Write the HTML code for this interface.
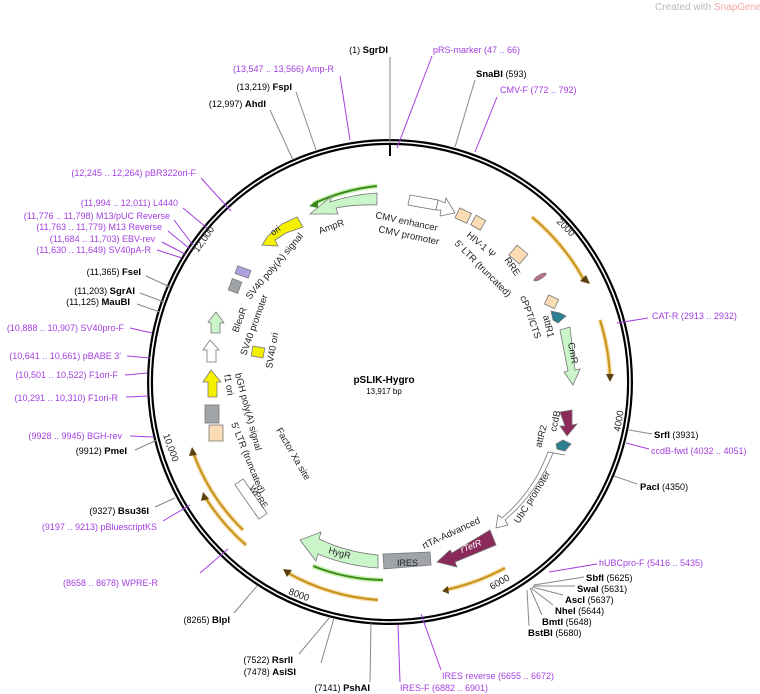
<!DOCTYPE html>
<html><head><meta charset="utf-8"><style>
html,body{margin:0;padding:0;background:#fff;}
svg{display:block;font-family:"Liberation Sans","DejaVu Sans",sans-serif;}
.p{fill:#a33ee0;font-size:9px}
.k{fill:#000;font-size:9px}
.b{font-weight:bold;font-size:9.5px}
.lp{stroke:#a33ee0;stroke-width:1;fill:none}
.lk{stroke:#888;stroke-width:1;fill:none}
.t{font-size:9.5px;fill:#222}
.o{stroke:#c8961e;stroke-width:2.2;fill:none}
.og{stroke:#f7d08a;stroke-width:5;fill:none;opacity:.6}
</style></head><body>
<svg width="760" height="694" viewBox="0 0 760 694">
<text x="655" y="10" font-size="10" fill="#bbb">Created with <tspan fill="#f4a6a6">SnapGene</tspan>®</text>
<!-- ring -->
<circle cx="390" cy="382" r="240" fill="none" stroke="#000" stroke-width="6"/>
<circle cx="390" cy="382" r="240" fill="none" stroke="#fff" stroke-width="1.6"/>
<line x1="390" y1="144" x2="390" y2="156" stroke="#000" stroke-width="2"/>
<!-- tick labels -->
<text class="t" font-size="9" transform="translate(556,222) rotate(45)">2000</text>
<text class="t" font-size="9" transform="translate(620,432) rotate(-80)">4000</text>
<text class="t" font-size="9" transform="translate(492,590) rotate(-30)">6000</text>
<text class="t" font-size="9" transform="translate(288,594) rotate(20)">8000</text>
<text class="t" font-size="9" transform="translate(163,435) rotate(70)">10,000</text>
<text class="t" font-size="9" transform="translate(198,253) rotate(-55)">12,000</text>
<!-- leader lines -->
<g class="lk">
<line x1="390" y1="57" x2="390" y2="142"/>
<line x1="475" y1="80" x2="455" y2="147"/>
<line x1="296" y1="92" x2="316" y2="150"/>
<line x1="270" y1="110" x2="293" y2="160"/>
<line x1="146" y1="276" x2="170" y2="287"/>
<line x1="140" y1="293" x2="164" y2="302"/>
<line x1="137" y1="304" x2="160" y2="312"/>
<line x1="135" y1="450" x2="157" y2="440"/>
<line x1="155" y1="507" x2="175" y2="498"/>
<line x1="234" y1="613" x2="257" y2="586"/>
<line x1="299" y1="654" x2="330" y2="617"/>
<line x1="321" y1="663" x2="334" y2="618"/>
<line x1="370" y1="682" x2="371" y2="623"/>
<line x1="529" y1="626" x2="527" y2="590"/>
<line x1="542" y1="615" x2="530" y2="588"/>
<line x1="553" y1="605" x2="531" y2="588"/>
<line x1="563" y1="595" x2="532" y2="587"/>
<line x1="575" y1="586" x2="533" y2="586"/>
<line x1="584" y1="577" x2="534" y2="585"/>
<line x1="637" y1="484" x2="614" y2="476"/>
<line x1="652" y1="434" x2="629" y2="430"/>
</g>
<g class="lp">
<line x1="432" y1="56" x2="397" y2="148"/>
<line x1="497" y1="97" x2="475" y2="152"/>
<line x1="340" y1="76" x2="350" y2="140"/>
<line x1="201" y1="178" x2="231" y2="211"/>
<line x1="183" y1="208" x2="207" y2="228"/>
<line x1="174" y1="220" x2="193" y2="245"/>
<line x1="168" y1="231" x2="190" y2="249"/>
<line x1="162" y1="242" x2="185" y2="254"/>
<line x1="157" y1="250" x2="182" y2="258"/>
<line x1="130" y1="328" x2="152" y2="333"/>
<line x1="127" y1="356" x2="150" y2="358"/>
<line x1="125" y1="375" x2="147" y2="373"/>
<line x1="126" y1="397" x2="148" y2="396"/>
<line x1="130" y1="436" x2="154" y2="437"/>
<line x1="163" y1="521" x2="190" y2="505"/>
<line x1="200" y1="573" x2="228" y2="549"/>
<line x1="400" y1="682" x2="398" y2="625"/>
<line x1="441" y1="670" x2="421" y2="614"/>
<line x1="597" y1="564" x2="549" y2="572"/>
<line x1="649" y1="449" x2="626" y2="443"/>
<line x1="648" y1="318" x2="617" y2="323"/>
</g>
<!-- labels left -->
<g text-anchor="end">
<text x="388" y="53"><tspan class="k">(1) </tspan><tspan class="k b">SgrDI</tspan></text>
<text x="334" y="72" class="p">(13,547 .. 13,566)  Amp-R</text>
<text x="292" y="90"><tspan class="k">(13,219) </tspan><tspan class="k b">FspI</tspan></text>
<text x="266" y="107"><tspan class="k">(12,997) </tspan><tspan class="k b">AhdI</tspan></text>
<text x="196" y="176" class="p">(12,245 .. 12,264)  pBR322ori-F</text>
<text x="178" y="206" class="p">(11,994 .. 12,011)  L4440</text>
<text x="170" y="219" class="p">(11,776 .. 11,798)  M13/pUC Reverse</text>
<text x="162" y="230" class="p">(11,763 .. 11,779)  M13 Reverse</text>
<text x="155" y="242" class="p">(11,684 .. 11,703)  EBV-rev</text>
<text x="151" y="253" class="p">(11,630 .. 11,649)  SV40pA-R</text>
<text x="141" y="275"><tspan class="k">(11,365) </tspan><tspan class="k b">FseI</tspan></text>
<text x="135" y="294"><tspan class="k">(11,203) </tspan><tspan class="k b">SgrAI</tspan></text>
<text x="130" y="305"><tspan class="k">(11,125) </tspan><tspan class="k b">MauBI</tspan></text>
<text x="124" y="331" class="p">(10,888 .. 10,907)  SV40pro-F</text>
<text x="121" y="359" class="p">(10,641 .. 10,661)  pBABE 3'</text>
<text x="118" y="378" class="p">(10,501 .. 10,522)  F1ori-F</text>
<text x="118" y="401" class="p">(10,291 .. 10,310)  F1ori-R</text>
<text x="122" y="439" class="p">(9928 .. 9945)  BGH-rev</text>
<text x="127" y="454"><tspan class="k">(9912) </tspan><tspan class="k b">PmeI</tspan></text>
<text x="149" y="514"><tspan class="k">(9327) </tspan><tspan class="k b">Bsu36I</tspan></text>
<text x="157" y="530" class="p">(9197 .. 9213)  pBluescriptKS</text>
<text x="158" y="586" class="p">(8658 .. 8678)  WPRE-R</text>
<text x="230" y="623"><tspan class="k">(8265) </tspan><tspan class="k b">BlpI</tspan></text>
<text x="293" y="663"><tspan class="k">(7522) </tspan><tspan class="k b">RsrII</tspan></text>
<text x="296" y="675"><tspan class="k">(7478) </tspan><tspan class="k b">AsiSI</tspan></text>
<text x="370" y="691"><tspan class="k">(7141) </tspan><tspan class="k b">PshAI</tspan></text>
</g>
<!-- labels right -->
<text x="433" y="53" class="p">pRS-marker   (47 .. 66)</text>
<text x="476" y="77"><tspan class="k b">SnaBI</tspan><tspan class="k">  (593)</tspan></text>
<text x="500" y="93" class="p">CMV-F   (772 .. 792)</text>
<text x="652" y="319" class="p">CAT-R   (2913 .. 2932)</text>
<text x="654" y="438"><tspan class="k b">SrfI</tspan><tspan class="k">  (3931)</tspan></text>
<text x="651" y="454" class="p">ccdB-fwd   (4032 .. 4051)</text>
<text x="640" y="490"><tspan class="k b">PacI</tspan><tspan class="k">  (4350)</tspan></text>
<text x="599" y="566" class="p">hUBCpro-F   (5416 .. 5435)</text>
<text x="586" y="581"><tspan class="k b">SbfI</tspan><tspan class="k">  (5625)</tspan></text>
<text x="577" y="592"><tspan class="k b">SwaI</tspan><tspan class="k">  (5631)</tspan></text>
<text x="565" y="603"><tspan class="k b">AscI</tspan><tspan class="k">  (5637)</tspan></text>
<text x="555" y="614"><tspan class="k b">NheI</tspan><tspan class="k">  (5644)</tspan></text>
<text x="542" y="625"><tspan class="k b">BmtI</tspan><tspan class="k">  (5648)</tspan></text>
<text x="528" y="636"><tspan class="k b">BstBI</tspan><tspan class="k">  (5680)</tspan></text>
<text x="442" y="679" class="p">IRES reverse   (6655 .. 6672)</text>
<text x="400" y="691" class="p">IRES-F   (6882 .. 6901)</text>
<!-- center -->
<text x="384" y="383" text-anchor="middle" font-size="10" font-weight="bold">pSLIK-Hygro</text>
<text x="384" y="394" text-anchor="middle" font-size="8">13,917 bp</text>
<!-- orange primer arcs -->
<g>
<path class="og" d="M532 217 A218 218 0 0 1 585 282"/><path class="o" d="M532 217 A218 218 0 0 1 585 282"/>
<polygon points="580,281 590,284 586,275" fill="#5a4010"/>
<path class="og" d="M600 320 A220 220 0 0 1 610 378"/><path class="o" d="M600 320 A220 220 0 0 1 610 378"/>
<polygon points="606,374 614,374 610,382" fill="#5a4010"/>
<path class="og" d="M505 568 A222 222 0 0 1 445 590"/><path class="o" d="M505 568 A222 222 0 0 1 445 590"/>
<polygon points="448,586 442,591 449,594" fill="#5a4010"/>
<path class="og" d="M378 600 A218 218 0 0 1 286 572"/><path class="o" d="M378 600 A218 218 0 0 1 286 572"/>
<polygon points="283,569 292,570 287,577" fill="#5a4010"/>
<path class="og" d="M243 530 A205 205 0 0 1 193 452"/><path class="o" d="M243 530 A205 205 0 0 1 193 452"/>
<polygon points="192,447 189,456 197,455" fill="#5a4010"/>
<path class="og" d="M246 545 A215 215 0 0 1 205 497"/><path class="o" d="M246 545 A215 215 0 0 1 205 497"/>
<polygon points="203,492 201,501 209,499" fill="#5a4010"/>
</g>
<!-- green thin arcs -->
<path d="M377 186 A197 197 0 0 0 313 204" stroke="#c8f0b0" stroke-width="5" fill="none"/>
<path d="M377 186 A197 197 0 0 0 313 204" stroke="#3a8a1a" stroke-width="2" fill="none"/>
<polygon points="309,206 318,200 318,208" fill="#3a8a1a"/>
<path d="M313 566 A195 195 0 0 0 383 580" stroke="#c8f0b0" stroke-width="5" fill="none"/>
<path d="M313 566 A195 195 0 0 0 383 580" stroke="#3a8a1a" stroke-width="2" fill="none"/>
<!-- features -->
<g stroke="#777" stroke-width="0.8">
<path d="M377 193 A189 189 0 0 0 330 202 L332 196 L310 214 L338 214 L336 208 A177 177 0 0 1 377 205 Z" fill="#c9f5c9"/>
<path d="M410 195 L438 200 L436 210 L408 205 Z" fill="#fff"/>
<path d="M438 200 L445 203 L446 198 L455 213 L440 216 L441 210 L436 210 Z" fill="#fff"/>
<rect x="457" y="210" width="13" height="11" fill="#fcdcb4" transform="rotate(25 463 215)"/>
<rect x="473" y="217" width="11" height="11" fill="#fcdcb4" transform="rotate(30 478 222)"/>
<rect x="511" y="248" width="14" height="13" fill="#fcdcb4" transform="rotate(40 518 255)"/>
<ellipse cx="540" cy="277" rx="7" ry="2" fill="#c07090" transform="rotate(-30 540 277)"/>
<rect x="546" y="297" width="11" height="10" fill="#fcdcb4" transform="rotate(25 552 302)"/>
<polygon points="551,311 560,313 566,316 558,323 553,320" fill="#2a8090"/>
<path d="M560 330 L570 327 L575 370 L580 369 L573 385 L564 372 L568 371 Z" fill="#c9f5c9"/>
<polygon points="560,412 572,410 572,425 577,424 567,436 560,426 565,426" fill="#8a2a5a"/>
<polygon points="556,444 563,440 571,444 565,451 557,449" fill="#2a8090"/>
<path d="M565 455 L553 453 A170 170 0 0 1 505 520 L508 525 L496 528 L498 515 L502 518 A160 160 0 0 0 548 452 Z" fill="#fff"/>
<polygon points="490,530 496,545 455,562 457,567 437,562 450,550 452,553" fill="#8a2a5a"/>
<text x="462" y="553" fill="#fff" font-size="9" font-style="italic" stroke="none" transform="rotate(-22 462 553)">rTetR</text>
<path d="M383 554 L430 552 L431 565 L384 569 Z" fill="#a0a4a8"/>
<text x="397" y="566" font-size="9" fill="#222" stroke="none">IRES</text>
<path d="M378 568 A186 186 0 0 1 318 554 L316 561 L300 540 L321 532 L319 539 A173 173 0 0 0 378 555 Z" fill="#c9f5c9"/>
<text x="328" y="553" font-size="9" fill="#222" stroke="none" transform="rotate(15 328 553)">HygR</text>
<rect x="246" y="478" width="10" height="42" fill="#fff" transform="rotate(-35 251 499)"/>
<polygon points="211,370 203,382 208,382 208,397 217,397 217,382 221,382" fill="#f4f000"/>
<rect x="205" y="405" width="14" height="18" fill="#a0a4a8"/>
<rect x="209" y="425" width="14" height="16" fill="#fcdcb4"/>
<polygon points="210,340 203,350 207,350 207,362 216,362 216,350 219,350" fill="#fff"/>
<polygon points="216,312 208,322 211,323 211,333 220,333 220,323 224,323" fill="#c9f5c9"/>
<rect x="230" y="280" width="10" height="12" fill="#a0a4a8" transform="rotate(20 235 286)"/>
<rect x="236" y="268" width="14" height="8" fill="#b0a0e0" transform="rotate(20 243 272)"/>
<polygon points="262,245 268,236 282,224 297,217 303,227 286,233 275,240 278,246" fill="#f4f000"/>
<rect x="252" y="347" width="12" height="10" fill="#f4f000" transform="rotate(10 258 352)"/>
</g>
<text x="273" y="236" font-size="9" fill="#222" transform="rotate(-35 273 236)">ori</text>
<!-- inner labels -->
<g class="t">
<text transform="translate(320,234) rotate(-20)">AmpR</text>
<text transform="translate(375,218) rotate(12)">CMV enhancer</text>
<text transform="translate(378,232) rotate(12)">CMV promoter</text>
<text transform="translate(466,236) rotate(40)">HIV-1 Ψ</text>
<text transform="translate(454,244) rotate(45)">5' LTR (truncated)</text>
<text transform="translate(504,260) rotate(55)">RRE</text>
<text transform="translate(520,297) rotate(70)">cPPT/CTS</text>
<text transform="translate(543,316) rotate(77)">attR1</text>
<text transform="translate(568,343) rotate(80)">CmR</text>
<text transform="translate(556,432) rotate(-78)">ccdB</text>
<text transform="translate(541,448) rotate(-75)">attR2</text>
<text transform="translate(519,524) rotate(-58)">UbC promoter</text>
<text transform="translate(424,549) rotate(-25)">rtTA-Advanced</text>
<text transform="translate(249,488) rotate(55)" font-size="8.5">WPRE</text>
<text transform="translate(276,430) rotate(60)">Factor Xa site</text>
<text transform="translate(231,424) rotate(68)">5' LTR (truncated)</text>
<text transform="translate(235,374) rotate(75)">bGH poly(A) signal</text>
<text transform="translate(224,375) rotate(80)">f1 ori</text>
<text transform="translate(272,369) rotate(-80)">SV40 ori</text>
<text transform="translate(246,356) rotate(-70)">SV40 promoter</text>
<text transform="translate(238,333) rotate(-70)">BleoR</text>
<text transform="translate(250,300) rotate(-50)">SV40 poly(A) signal</text>
</g>
</svg>
</body></html>
